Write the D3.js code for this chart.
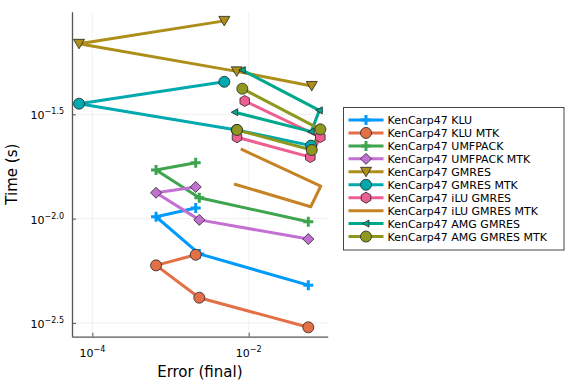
<!DOCTYPE html>
<html>
<head>
<meta charset="utf-8">
<script src="https://cdn.jsdelivr.net/npm/d3@7"></script>
<style>
  body { margin: 0; background: #fff; }
  svg { font-family: "DejaVu Sans", sans-serif; }
</style>
</head>
<body>
<div id="chart"></div>
<script>
const WIDTH = 576;
const HEIGHT = 384;

// log10 of (error, time) for each run
const seriesNames = [
  "KenCarp47 KLU", "KenCarp47 KLU MTK", "KenCarp47 UMFPACK", "KenCarp47 UMFPACK MTK",
  "KenCarp47 GMRES", "KenCarp47 GMRES MTK", "KenCarp47 iLU GMRES", "KenCarp47 iLU GMRES MTK",
  "KenCarp47 AMG GMRES", "KenCarp47 AMG GMRES MTK"
];
const seriesColors = [
  "#009AFA", "#E36F47", "#3EA44E", "#C271D2", "#AC8E18",
  "#00A9AD", "#ED5E93", "#C68225", "#00A98D", "#8E971E"
];
const seriesMarkers = [
  "cross", "circle", "cross", "diamond", "dtriangle",
  "circle", "hexagon", "none", "ltriangle", "circle"
];

const kluErr = [-1.238, -2.632, -3.185, -2.678];
const kluTime = [-2.319, -2.169, -1.991, -1.949];
const kluMtkErr = [-1.238, -2.632, -3.185, -2.678];
const kluMtkTime = [-2.521, -2.379, -2.224, -2.173];
const umfErr = [-1.238, -2.632, -3.185, -2.678];
const umfTime = [-2.015, -1.900, -1.767, -1.732];
const umfMtkErr = [-1.238, -2.632, -3.185, -2.678];
const umfMtkTime = [-2.098, -2.006, -1.876, -1.848];
const gmresErr = [-1.194, -2.153, -4.170, -2.312];
const gmresTime = [-1.364, -1.294, -1.162, -1.052];
const gmresMtkErr = [-1.203, -2.153, -4.170, -2.312];
const gmresMtkTime = [-1.650, -1.575, -1.449, -1.344];
const iluErr = [-2.051, -1.084, -1.212, -2.150];
const iluTime = [-1.436, -1.609, -1.705, -1.610];
const iluMtkErr = [-2.102, -1.079, -1.207, -2.188];
const iluMtkTime = [-1.666, -1.844, -1.943, -1.834];
const amgErr = [-2.082, -1.097, -1.200, -2.179];
const amgTime = [-1.288, -1.481, -1.583, -1.490];
const amgMtkErr = [-2.082, -1.084, -1.194, -2.150];
const amgMtkTime = [-1.377, -1.572, -1.671, -1.575];

const errLists = [kluErr, kluMtkErr, umfErr, umfMtkErr, gmresErr, gmresMtkErr, iluErr, iluMtkErr, amgErr, amgMtkErr];
const timeLists = [kluTime, kluMtkTime, umfTime, umfMtkTime, gmresTime, gmresMtkTime, iluTime, iluMtkTime, amgTime, amgMtkTime];

const xTicks = [-4, -2];
const xTickLabels = ["\u22124", "\u22122"];
const yTicks = [-1.5, -2.0, -2.5];
const yTickLabels = ["\u22121.5", "\u22122.0", "\u22122.5"];

const plot = { left: 72, right: 327.7, top: 11.7, bottom: 336.7 };

const x = d3.scaleLog()
  .domain([Math.pow(10, -4.26), Math.pow(10, -0.99)])
  .range([plot.left, plot.right]);
const y = d3.scaleLog()
  .domain([Math.pow(10, -2.566), Math.pow(10, -1.008)])
  .range([plot.bottom, plot.top]);

const svg = d3.select("#chart").append("svg")
  .attr("width", WIDTH)
  .attr("height", HEIGHT);

// grid
svg.append("g").selectAll("line").data(xTicks).join("line")
  .attr("x1", d => x(Math.pow(10, d))).attr("x2", d => x(Math.pow(10, d)))
  .attr("y1", plot.top).attr("y2", plot.bottom)
  .attr("stroke", "#000").attr("stroke-opacity", 0.1).attr("stroke-width", 0.6);
svg.append("g").selectAll("line").data(yTicks).join("line")
  .attr("y1", d => y(Math.pow(10, d))).attr("y2", d => y(Math.pow(10, d)))
  .attr("x1", plot.left).attr("x2", plot.right)
  .attr("stroke", "#000").attr("stroke-opacity", 0.1).attr("stroke-width", 0.6);

// axes (ticks point inward)
const xAxis = d3.axisBottom(x)
  .tickValues(xTicks.map(d => Math.pow(10, d)))
  .tickSizeInner(-4).tickSizeOuter(0).tickFormat("");
const yAxis = d3.axisLeft(y)
  .tickValues(yTicks.map(d => Math.pow(10, d)))
  .tickSizeInner(-4).tickSizeOuter(0).tickFormat("");

const gx = svg.append("g").attr("transform", `translate(0,${plot.bottom})`).call(xAxis);
const gy = svg.append("g").attr("transform", `translate(${plot.left},0)`).call(yAxis);
[gx, gy].forEach(g => {
  g.select(".domain").attr("stroke", "#555").attr("stroke-width", 1.3);
  g.selectAll(".tick line").attr("stroke", "#555").attr("stroke-width", 1);
});

// tick labels with superscripts
xTicks.forEach((d, i) => {
  const t = svg.append("text")
    .attr("x", x(Math.pow(10, d)))
    .attr("y", plot.bottom + 20.5)
    .attr("text-anchor", "middle")
    .attr("font-size", 11)
    .attr("fill", "#000");
  t.append("tspan").text("10");
  t.append("tspan").attr("dy", -5).attr("font-size", 8).text(xTickLabels[i]);
});
yTicks.forEach((d, i) => {
  const t = svg.append("text")
    .attr("x", plot.left - 8)
    .attr("y", y(Math.pow(10, d)) + 5)
    .attr("text-anchor", "end")
    .attr("font-size", 11)
    .attr("fill", "#000");
  t.append("tspan").text("10");
  t.append("tspan").attr("dy", -5).attr("font-size", 8).text(yTickLabels[i]);
});

// axis titles
svg.append("text")
  .attr("x", (plot.left + plot.right) / 2)
  .attr("y", 376.5)
  .attr("text-anchor", "middle")
  .attr("font-size", 15)
  .text("Error (final)");
svg.append("text")
  .attr("transform", `translate(17,${(plot.top + plot.bottom) / 2}) rotate(-90)`)
  .attr("text-anchor", "middle")
  .attr("font-size", 15)
  .text("Time (s)");

function markerPath(kind) {
  switch (kind) {
    case "cross": return "M-5,0H5M0,-5V5";
    case "circle": return d3.symbol(d3.symbolCircle, 95)();
    case "diamond": return "M0,-5.5L5.5,0L0,5.5L-5.5,0Z";
    case "dtriangle": return "M-5.5,-4.5L5.5,-4.5L0,5Z";
    case "ltriangle": return "M-3.5,0L3,-3.5L3,3.5Z";
    case "hexagon": {
      const r = 5.5;
      return d3.range(6).map(k => {
        const a = Math.PI / 6 + k * Math.PI / 3;
        return (k ? "L" : "M") + (r * Math.cos(a)).toFixed(2) + "," + (r * Math.sin(a)).toFixed(2);
      }).join("") + "Z";
    }
    default: return null;
  }
}

function drawMarker(g, kind, color) {
  const p = markerPath(kind);
  if (!p) return;
  if (kind === "cross") {
    g.append("path").attr("d", p).attr("stroke", color).attr("stroke-width", 3).attr("fill", "none");
  } else {
    g.append("path").attr("d", p).attr("fill", color)
      .attr("stroke", "#222").attr("stroke-width", 0.8);
  }
}

const line = d3.line().x(d => x(d[0])).y(d => y(d[1]));

const series = seriesNames.map((name, i) => ({
  name,
  color: seriesColors[i],
  marker: seriesMarkers[i],
  points: errLists[i].map((e, j) => [Math.pow(10, e), Math.pow(10, timeLists[i][j])])
}));

const plotG = svg.append("g");
series.forEach(s => {
  plotG.append("path")
    .attr("d", line(s.points))
    .attr("fill", "none")
    .attr("stroke", s.color)
    .attr("stroke-width", 3)
    .attr("stroke-linejoin", "round");
});
series.forEach(s => {
  s.points.forEach(p => {
    const g = plotG.append("g").attr("transform", `translate(${x(p[0])},${y(p[1])})`);
    drawMarker(g, s.marker, s.color);
  });
});

// legend
const legend = svg.append("g");
legend.append("rect")
  .attr("x", 343.5).attr("y", 107.5)
  .attr("width", 220.5).attr("height", 142.5)
  .attr("fill", "#fff").attr("stroke", "#444").attr("stroke-width", 1);
series.forEach((s, i) => {
  const ly = 120 + i * 12.95;
  legend.append("line")
    .attr("x1", 348.5).attr("x2", 383.5)
    .attr("y1", ly).attr("y2", ly)
    .attr("stroke", s.color).attr("stroke-width", 3);
  const g = legend.append("g").attr("transform", `translate(366,${ly})`);
  drawMarker(g, s.marker, s.color);
  legend.append("text")
    .attr("x", 387.5).attr("y", ly + 4)
    .attr("font-size", 11)
    .text(s.name);
});
</script>
</body>
</html>
